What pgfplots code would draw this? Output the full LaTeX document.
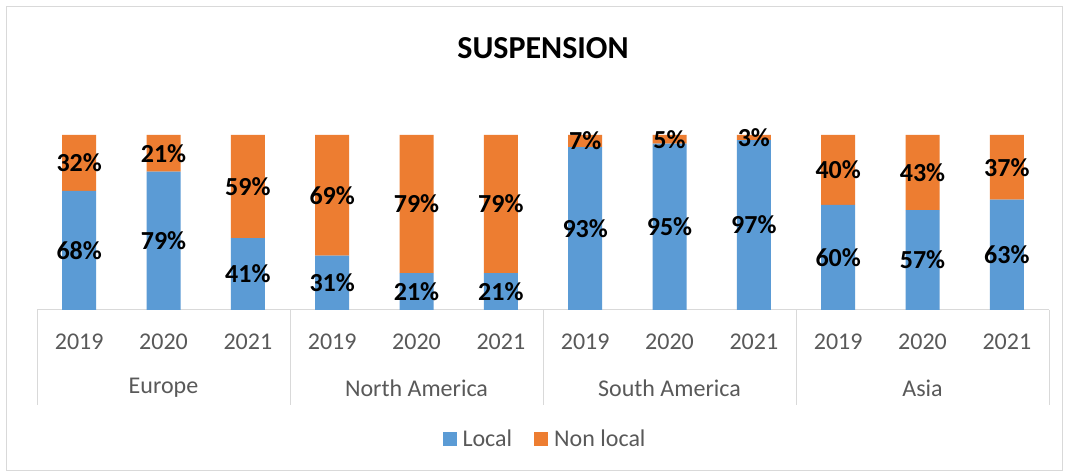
\documentclass[border=0pt]{standalone}
\usepackage{pgfplots}
\pgfplotsset{compat=1.18}
\usepackage{fontspec}
\setmainfont{Carlito}
\definecolor{cblue}{HTML}{5B9BD5}
\definecolor{corange}{HTML}{ED7D31}
\definecolor{tgray}{HTML}{595959}
\definecolor{lgray}{HTML}{D9D9D9}
\begin{document}
\begin{tikzpicture}
\useasboundingbox (0,0) rectangle (1068pt,473pt);
\fill[white] (0,0) rectangle (1068pt,473pt);
\draw[lgray, line width=1pt] (6pt,2pt) rectangle (1062pt,466pt);
\node[font=\fontsize{32}{38}\selectfont\bfseries] at (543pt,425pt) {SUSPENSION};
\begin{axis}[
  at={(37pt,163pt)}, anchor=south west,
  scale only axis, width=1012pt, height=175pt,
  ybar stacked, bar width=34pt,
  xmin=-0.5, xmax=11.5, ymin=0, ymax=100,
  axis y line=none, axis x line*=bottom,
  x axis line style={lgray, line width=1pt, -},
  xtick={0,...,11},
  xticklabels={2019,2020,2021,2019,2020,2021,2019,2020,2021,2019,2020,2021},
  xtick style={draw=none},
  xticklabel style={font=\fontsize{24}{28}\selectfont, text=tgray, anchor=center, yshift=-32pt},
  clip=false,
  /pgf/number format/assume math mode=true,
  point meta=explicit,
  nodes near coords={\pgfmathprintnumber{\pgfplotspointmeta}\%},
  every node near coord/.append style={font=\fontsize{26}{30}\selectfont\bfseries, text=black, anchor=center},
  legend style={at={(0.502,-0.737)}, anchor=center, draw=none, fill=none, font=\fontsize{24}{28}\selectfont, text=tgray, legend columns=2, /tikz/every even column/.append style={column sep=20pt}},
  legend image code/.code={\fill[#1,draw=none] (0pt,-7pt) rectangle (14pt,7pt); \path (18pt,0pt);},
]
\addplot[fill=cblue, draw=none] coordinates {
(0,68)[68] (1,79)[79] (2,41)[41]
(3,31)[31] (4,21)[21] (5,21)[21]
(6,93)[93] (7,95)[95] (8,97)[97]
(9,60)[60] (10,57)[57] (11,63)[63]};
\addlegendentry{Local}
\addplot[fill=corange, draw=none] coordinates {
(0,32)[32] (1,21)[21] (2,59)[59]
(3,69)[69] (4,79)[79] (5,79)[79]
(6,7)[7] (7,5)[5] (8,3)[3]
(9,40)[40] (10,43)[43] (11,37)[37]};
\addlegendentry{Non local}
\pgfplotsinvokeforeach{-0.5,2.5,5.5,8.5,11.5}{
  \draw[lgray, line width=1pt] (axis cs:#1,0) -- ++(0pt,-95pt);
}
\node[font=\fontsize{24}{28}\selectfont, text=tgray] at (axis cs:1,0) [yshift=-78pt] {Europe};
\node[font=\fontsize{24}{28}\selectfont, text=tgray] at (axis cs:4,0) [yshift=-78pt] {North America};
\node[font=\fontsize{24}{28}\selectfont, text=tgray] at (axis cs:7,0) [yshift=-78pt] {South America};
\node[font=\fontsize{24}{28}\selectfont, text=tgray] at (axis cs:10,0) [yshift=-78pt] {Asia};
\end{axis}
\end{tikzpicture}
\end{document}
